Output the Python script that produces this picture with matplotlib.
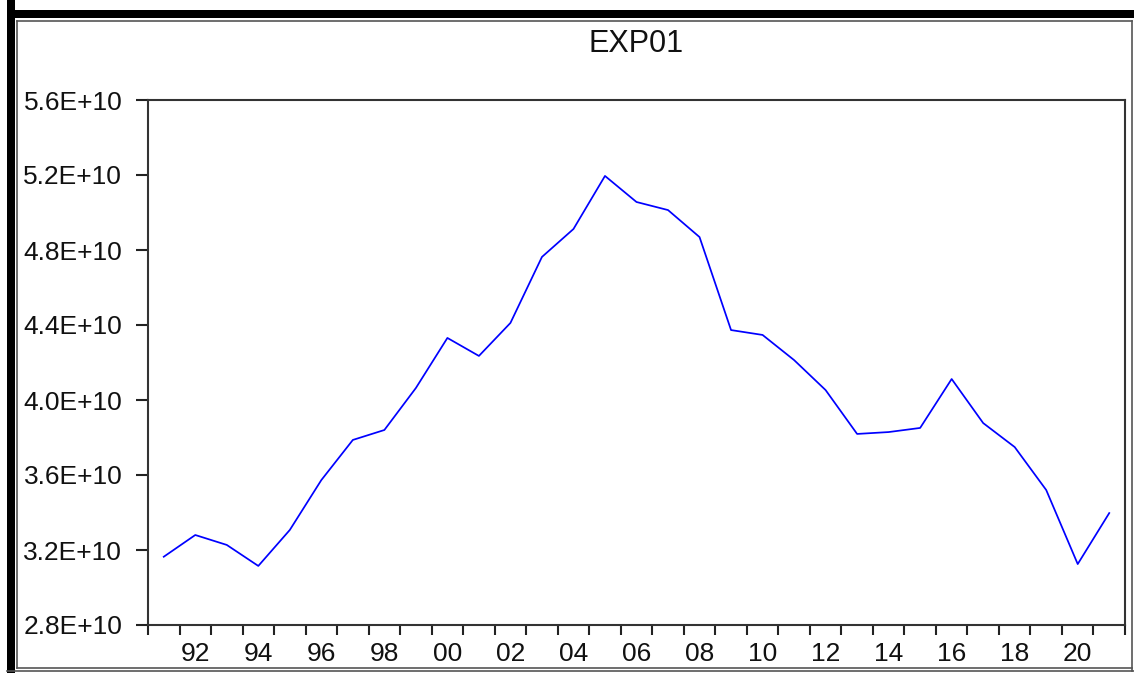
import matplotlib
matplotlib.use("Agg")
import matplotlib.pyplot as plt
from matplotlib.lines import Line2D
from matplotlib.patches import Rectangle
from matplotlib.ticker import FixedLocator, FuncFormatter, NullFormatter

# EXP01 series, annual 1991-2021
years = list(range(1991, 2022))
exp01 = [3.164, 3.280, 3.227, 3.115, 3.307, 3.573, 3.787, 3.840, 4.064, 4.331,
         4.235, 4.411, 4.763, 4.912, 5.195, 5.056, 5.013, 4.869, 4.373, 4.347,
         4.213, 4.053, 3.819, 3.829, 3.851, 4.112, 3.877, 3.749, 3.520, 3.125,
         3.397]
exp01 = [v * 1e10 for v in exp01]

y_ticks = [2.8e10, 3.2e10, 3.6e10, 4.0e10, 4.4e10, 4.8e10, 5.2e10, 5.6e10]
label_years = list(range(1992, 2021, 2))
title = "EXP01"

W, H = 1134, 673
plt.rcParams["font.family"] = ["Liberation Sans", "DejaVu Sans"]

fig = plt.figure(figsize=(W / 100, H / 100), dpi=100)
fig.patch.set_facecolor("white")


def fx(px):
    return px / W


def fy(py):
    return 1 - py / H


# window frame: heavy black edge on the left and top, thin grey borders elsewhere
fig.add_artist(Rectangle((fx(7), fy(673)), fx(8), 673 / H, transform=fig.transFigure,
                         facecolor="black", edgecolor="none"))
fig.add_artist(Rectangle((fx(7), fy(18)), fx(1134 - 7), 8 / H, transform=fig.transFigure,
                         facecolor="black", edgecolor="none"))
grey = "#555555"
for (x0, y0, x1, y1) in [(16.5, 21, 16.5, 668), (16.5, 21, 1132, 21),
                         (1132, 21, 1132, 671), (16.5, 668, 1132, 668),
                         (7, 671, 1134, 671)]:
    fig.add_artist(Line2D([fx(x0), fx(x1)], [fy(y0), fy(y1)], transform=fig.transFigure,
                          color=grey, lw=1.2))

ax = fig.add_axes([fx(148), fy(625), fx(1125 - 148), (625 - 100) / H])
ax.plot(years, exp01, color="#0000FF", lw=1.25)

ax.set_xlim(1990.5, 2021.5)
ax.set_ylim(2.8e10, 5.6e10)

# year boundaries carry ticks, even years carry labels
ax.xaxis.set_major_locator(FixedLocator([y + 0.5 for y in range(1990, 2022)]))
ax.xaxis.set_major_formatter(NullFormatter())
ax.xaxis.set_minor_locator(FixedLocator(label_years))
ax.xaxis.set_minor_formatter(FuncFormatter(lambda v, p: f"{int(round(v)) % 100:02d}"))
ax.tick_params(axis="x", which="major", direction="out", length=7.5, width=1.5,
               color="#222222")
ax.tick_params(axis="x", which="minor", length=0, pad=12.5, labelsize=19,
               labelcolor="#111111")

ax.yaxis.set_major_locator(FixedLocator(y_ticks))
ax.yaxis.set_major_formatter(FuncFormatter(lambda v, p: f"{v / 1e10:.1f}E+10"))
ax.tick_params(axis="y", direction="out", length=9, width=1.5, pad=9.5,
               labelsize=19, labelcolor="#111111", color="#222222")

for s in ax.spines.values():
    s.set_color("#333333")
    s.set_linewidth(1.5)

fig.text(fx(636.5), fy(52), title, ha="center", va="baseline", fontsize=22,
         color="#111111")

fig.savefig("out.png", dpi=100, facecolor="white")
